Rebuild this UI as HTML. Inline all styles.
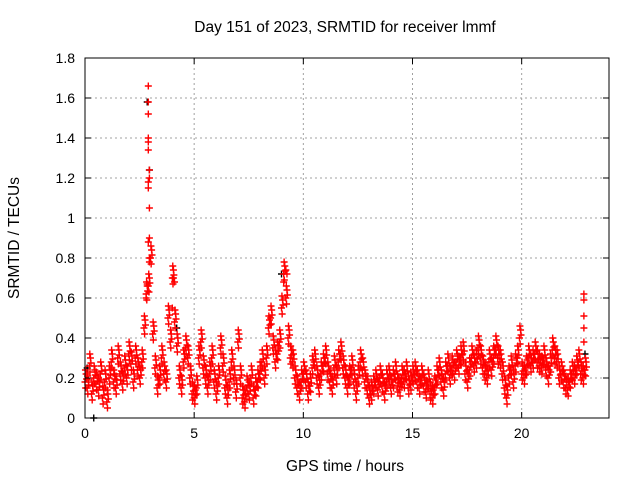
<!DOCTYPE html>
<html><head><meta charset="utf-8"><style>body{margin:0;background:#fff}svg{display:block;font-family:"Liberation Sans",sans-serif}</style></head>
<body>
<svg id="chart" width="640" height="480" viewBox="0 0 640 480">
<rect width="640" height="480" fill="#fff"/>
<g id="grid"></g><g id="marks"></g><g id="axes"></g>
<text x="345" y="32" font-size="15.5" text-anchor="middle">Day 151 of 2023, SRMTID for receiver lmmf</text>
<text transform="translate(19,238) rotate(-90)" font-size="15.5" text-anchor="middle">SRMTID / TECUs</text>
<text x="345" y="471" font-size="15.5" text-anchor="middle">GPS time / hours</text>
</svg>
<script>
const xTicks=[0,5,10,15,20];
const yTicks=[0,0.2,0.4,0.6,0.8,1,1.2,1.4,1.6,1.8];
const yTickLabels=["0","0.2","0.4","0.6","0.8","1","1.2","1.4","1.6","1.8"];
const tStart=0, tStep=0.1;
const values=[
0.18,0.15,0.26,0.12,0.2,0.17,0.14,0.22,0.1,0.18,
0.08,0.2,0.28,0.18,0.15,0.3,0.22,0.17,0.25,0.2,
0.32,0.27,0.18,0.3,0.24,0.2,0.28,0.45,0.62,0.66,
0.8,0.42,0.25,0.15,0.2,0.3,0.22,0.18,0.5,0.38,
0.7,0.48,0.36,0.2,0.15,0.28,0.35,0.3,0.2,0.12,
0.1,0.15,0.3,0.38,0.25,0.2,0.15,0.22,0.3,0.18,
0.12,0.2,0.35,0.26,0.15,0.1,0.18,0.28,0.2,0.13,
0.38,0.2,0.1,0.08,0.15,0.12,0.2,0.1,0.14,0.18,
0.22,0.28,0.2,0.3,0.45,0.5,0.35,0.28,0.32,0.38,
0.55,0.72,0.6,0.4,0.3,0.28,0.2,0.15,0.12,0.18,
0.22,0.18,0.12,0.16,0.25,0.28,0.2,0.15,0.22,0.26,
0.3,0.22,0.18,0.15,0.25,0.2,0.28,0.32,0.25,0.2,
0.15,0.2,0.25,0.18,0.12,0.2,0.28,0.24,0.18,0.15,
0.1,0.12,0.15,0.18,0.14,0.2,0.16,0.12,0.18,0.2,
0.15,0.18,0.22,0.16,0.14,0.2,0.18,0.22,0.15,0.17,
0.2,0.22,0.18,0.15,0.2,0.16,0.13,0.18,0.12,0.1,
0.15,0.2,0.24,0.18,0.14,0.22,0.26,0.2,0.25,0.22,
0.28,0.25,0.3,0.32,0.22,0.18,0.24,0.3,0.26,0.28,
0.35,0.3,0.25,0.22,0.2,0.28,0.24,0.3,0.35,0.3,
0.28,0.22,0.15,0.1,0.2,0.25,0.18,0.26,0.3,0.4,
0.22,0.2,0.25,0.3,0.26,0.28,0.32,0.28,0.26,0.25,
0.3,0.24,0.2,0.26,0.34,0.3,0.28,0.2,0.22,0.18,
0.15,0.14,0.18,0.22,0.2,0.25,0.28,0.22,0.2,0.24];
const spikeT=[2.9,2.9,2.9,2.9,2.9,2.9,2.95,2.95,2.9,2.9,2.95,2.95,2.9,2.95,2.95,2.85,2.8,4.05,4.1,4.0,9.2,9.25,9.1,22.85,22.85,22.85,22.85,22.85];
const spikeV=[1.66,1.58,1.52,1.4,1.38,1.34,1.24,1.2,1.18,1.15,1.05,0.9,0.88,0.8,0.78,0.67,0.6,0.7,0.68,0.55,0.74,0.72,0.68,0.62,0.59,0.51,0.45,0.38];
const blackT=[0.1,0.4,2.85,2.95,4.2,9.0,22.9];
const blackV=[0.25,0.0,1.58,1.24,0.45,0.72,0.32];

const L=85,R=609,T=58,B=418;
const X=t=>L+(t-0)/(24-0)*(R-L);
const Y=v=>B-(v-0)/(1.8-0)*(B-T);
const NS="http://www.w3.org/2000/svg";
function mk(tag,attrs,parent){const e=document.createElementNS(NS,tag);for(const k in attrs)e.setAttribute(k,attrs[k]);parent.appendChild(e);return e;}
const grid=document.getElementById('grid'),marks=document.getElementById('marks'),axes=document.getElementById('axes');
xTicks.forEach(t=>{
 if(t>0){const g=mk('line',{x1:X(t),x2:X(t),y1:T,y2:B,stroke:'#a0a0a0','stroke-dasharray':'2,3'},grid);
 
 }
 mk('line',{x1:X(t),x2:X(t),y1:B,y2:B-6,stroke:'#000'},axes);
 mk('line',{x1:X(t),x2:X(t),y1:T,y2:T+6,stroke:'#000'},axes);
 const l=mk('text',{x:X(t),y:B+20,'font-size':14,'text-anchor':'middle'},axes);l.textContent=t;
 
 
});
yTicks.forEach((v,i)=>{
 if(v>0&&v<1.8){const g=mk('line',{x1:L,x2:R,y1:Y(v),y2:Y(v),stroke:'#a0a0a0','stroke-dasharray':'2,3'},grid);
 
 }
 mk('line',{x1:L,x2:L+6,y1:Y(v),y2:Y(v),stroke:'#000'},axes);
 mk('line',{x1:R,x2:R-6,y1:Y(v),y2:Y(v),stroke:'#000'},axes);
 const l=mk('text',{x:L-10,y:Y(v)+5,'font-size':14,'text-anchor':'end'},axes);l.textContent=yTickLabels[i];
 
 
});
const frame=mk('rect',{x:L,y:T,width:R-L,height:B-T,fill:'none',stroke:'#000'},axes);


function plus(t,v,c){const x=X(t),y=Y(v);
 const p=mk('path',{d:`M${x-3.5},${y}h7M${x},${y-3.5}v7`,stroke:c,'stroke-width':1.4,fill:'none'},marks);
 
 }
blackT.forEach((t,i)=>plus(t,blackV[i],'#000'));
values.forEach((v,i)=>{const t=tStart+i*tStep;
 plus(t,v,'#f00');plus(t+0.05,v+0.04,'#f00');plus(t+0.03,v-0.03,'#f00');
 plus(t+0.07,v+0.015,'#f00');plus(t+0.02,v+0.06,'#f00');});
spikeT.forEach((t,i)=>plus(t,spikeV[i],'#f00'));
</script>
</body></html>
